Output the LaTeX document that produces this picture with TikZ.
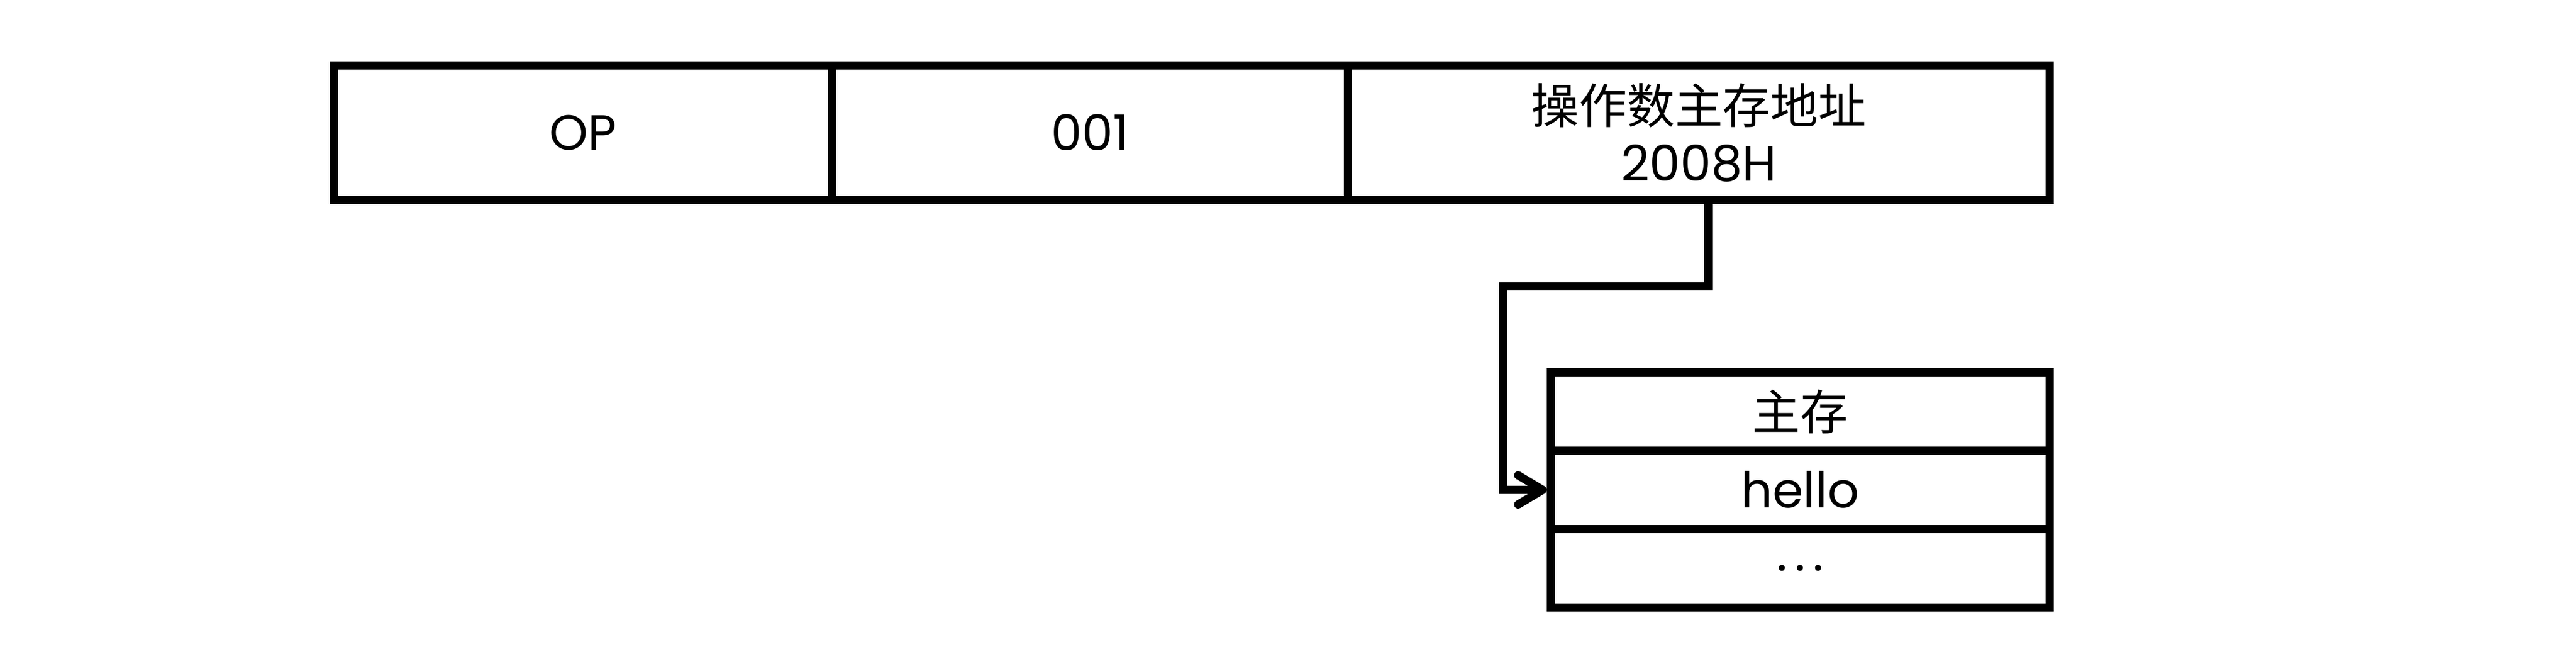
\documentclass[tikz,border=0pt]{standalone}
\usepackage{fontspec}
\setmainfont{Poppins}
\newfontfamily\cjk{Noto Sans CJK SC}
\usepackage{tikz}
\usetikzlibrary{arrows.meta}

\tikzset{
	field/.style={draw,line width=0.14cm,minimum height=2.3cm,inner sep=0pt,align=center,font=\fontsize{24pt}{28pt}\selectfont},
	cell/.style={draw,line width=0.14cm,minimum width=8.53cm,minimum height=1.34cm,inner sep=0pt,font=\fontsize{24pt}{28pt}\selectfont},
	link/.style={line width=0.14cm,-{Straight Barb[length=0.42cm,width=0.5cm,round]}}
}

\begin{document}
\begin{tikzpicture}
	\useasboundingbox (0,0) rectangle (44.05,-11.40);
	\node[field,minimum width=8.52cm] (op) at (9.97,-2.27) {OP};
	\node[field,minimum width=8.82cm] (mode) at (18.64,-2.27) {001};
	\node[field,minimum width=12cm] (addr) at (29.05,-2.27) {{\cjk\fontsize{23.3pt}{28pt}\selectfont 操作数主存地址}\\2008H};
	\node[cell] (mem) at (30.785,-7.04) {\cjk\fontsize{23.3pt}{28pt}\selectfont 主存};
	\node[cell] (hello) at (30.785,-8.38) {hello};
	\node[cell] (rest) at (30.785,-9.72) {.\hspace{0.13cm}.\hspace{0.13cm}.};
	\draw[link] ([xshift=0.16cm]addr.south) -- ++(0,-1.41) -| ([xshift=-0.75cm]hello.west) -- (hello.west);
\end{tikzpicture}
\end{document}
